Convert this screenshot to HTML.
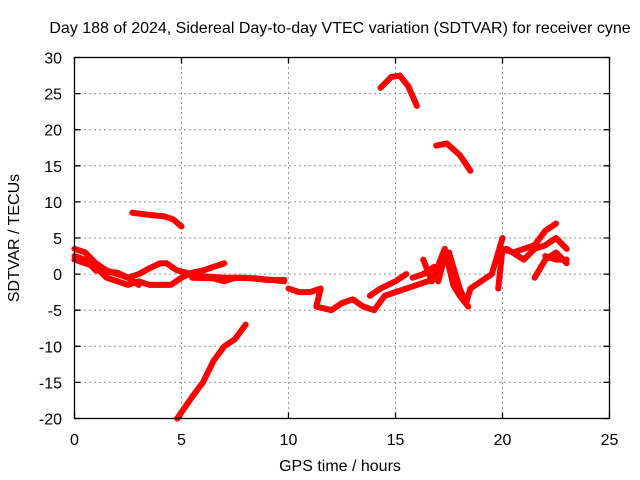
<!DOCTYPE html>
<html><head><meta charset="utf-8"><style>
body{margin:0;background:#fff}
svg{display:block;font-family:"Liberation Sans",sans-serif}
</style></head><body>
<svg id="c" width="640" height="480">
<text x="340" y="33" text-anchor="middle" font-size="16">Day 188 of 2024, Sidereal Day-to-day VTEC variation (SDTVAR) for receiver cyne</text>
<text x="340" y="471" text-anchor="middle" font-size="16">GPS time / hours</text>
<text x="19" y="238" text-anchor="middle" font-size="16" transform="rotate(-90 19 238)">SDTVAR / TECUs</text>
<g id="grid"></g><g id="ticks"></g><g id="series"></g>
<rect x="74.5" y="57.5" width="535" height="361" fill="none" stroke="#000" stroke-width="1.3"/>
</svg>
<script>
const xTicks=[0,5,10,15,20,25];
const yTicks=[-20,-15,-10,-5,0,5,10,15,20,25,30];
const s1=[[0,3.5],[0.5,3],[1,1.5],[1.5,0.5],[2,0],[2.5,-0.5],[3,0],[3.5,0.8],[4,1.5],[4.3,1.5],[4.8,0.5],[5.5,0],[6,-0.3],[7,-0.5],[8,-0.5],[9,-0.8],[9.8,-0.8]];
const s2=[[0,2],[0.5,1.5],[1,1],[1.5,-0.5],[2,-1],[2.5,-1.5],[3,-1],[3.5,-1.5],[4,-1.5],[4.5,-1.5],[5,-0.5],[5.5,0.2],[6,0.5],[6.5,1],[7,1.5]];
const s3=[[0,2.5],[0.5,2],[1,0.5],[1.5,0.3],[2,0.2],[2.5,-0.5],[3,-1.5]];
const s4=[[5.5,-0.5],[6.5,-0.6],[7,-1],[7.5,-0.5],[8.5,-0.6],[9.8,-1]];
const s5=[[10,-2],[10.5,-2.5],[11,-2.5],[11.5,-2],[11.3,-4.5],[12,-5],[12.5,-4],[13,-3.5],[13.5,-4.5],[14,-5],[14.5,-3],[15,-2.5],[15.5,-2],[16,-1.5],[16.5,-1],[17,-0.5]];
const s6=[[13.8,-3],[14.3,-2],[15,-1],[15.5,0]];
const s7=[[15.8,-0.5],[16.3,0],[16.8,1],[17,-1],[17.3,2.5],[17.5,3],[17.8,0],[18,-2],[18.3,-4],[18.5,-2],[19,-1],[19.5,0],[20,5]];
const s8=[[16.3,2],[16.7,-1],[17.3,3.5],[17.7,-1.5],[18,-3],[18.4,-4.5]];
const s9=[[19.8,-2],[20,3.5],[20.5,3],[21,3.5],[21.5,4],[22,6],[22.5,7]];
const s10=[[20.2,3.5],[21,2],[21.5,3.5],[22,4],[22.5,5],[23,3.5]];
const s11=[[21.5,-0.5],[22,2],[22.5,3],[23,1.5]];
const s12=[[22,2.5],[22.5,2],[23,2]];
const s13=[[2.7,8.5],[3.5,8.2],[4.2,8],[4.6,7.6],[5,6.6]];
const s14=[[4.8,-20],[5.5,-17],[6,-15],[6.5,-12],[7,-10],[7.5,-9],[8,-7]];
const s15=[[14.3,25.8],[14.8,27.3],[15.2,27.5],[15.6,26],[16,23.3]];
const s16=[[16.9,17.8],[17.4,18.1],[18,16.5],[18.5,14.3]];
const allSeries=[s1,s2,s3,s4,s5,s6,s7,s8,s9,s10,s11,s12,s13,s14,s15,s16];
const NS="http://www.w3.org/2000/svg";
const X=v=>74.5+v*535/25;
const Y=v=>418.5-(v+20)*361/50;
const grid=document.getElementById('grid'),ticks=document.getElementById('ticks'),ser=document.getElementById('series');
function mk(t,a,p){const e=document.createElementNS(NS,t);for(const k in a)e.setAttribute(k,a[k]);p.appendChild(e);return e;}
xTicks.forEach(t=>{
  if(t>0&&t<25){const g=mk('line',{x1:X(t),x2:X(t),y1:57,y2:419,stroke:'#999','stroke-dasharray':'2,3'},grid);
  
  }
  const tk=mk('path',{d:`M${X(t)} 418.5v-6M${X(t)} 57.5v6`,stroke:'#000','stroke-width':1.3},grid);
  
  
  const l=mk('text',{x:X(t),y:445,'text-anchor':'middle','font-size':'16'},ticks);l.textContent=t;
  
  
});
yTicks.forEach(t=>{
  if(t>-20&&t<30){const g=mk('line',{x1:74,x2:611,y1:Y(t),y2:Y(t),stroke:'#999','stroke-dasharray':'2,3'},grid);
  
  }
  const tk=mk('path',{d:`M74.5 ${Y(t)}h6M609.5 ${Y(t)}h-6`,stroke:'#000','stroke-width':1.3},grid);
  
  
  const l=mk('text',{x:62,y:Y(t)+6,'text-anchor':'end','font-size':'16'},ticks);l.textContent=t;
  
  
});
allSeries.forEach((s,i)=>{
  const p=mk('polyline',{points:s.map(d=>X(d[0])+','+Y(d[1])).join(' '),fill:'none',stroke:'#f00','stroke-width':6,'stroke-linejoin':'round','stroke-linecap':'round'},ser);
  
  
});
</script>
</body></html>
